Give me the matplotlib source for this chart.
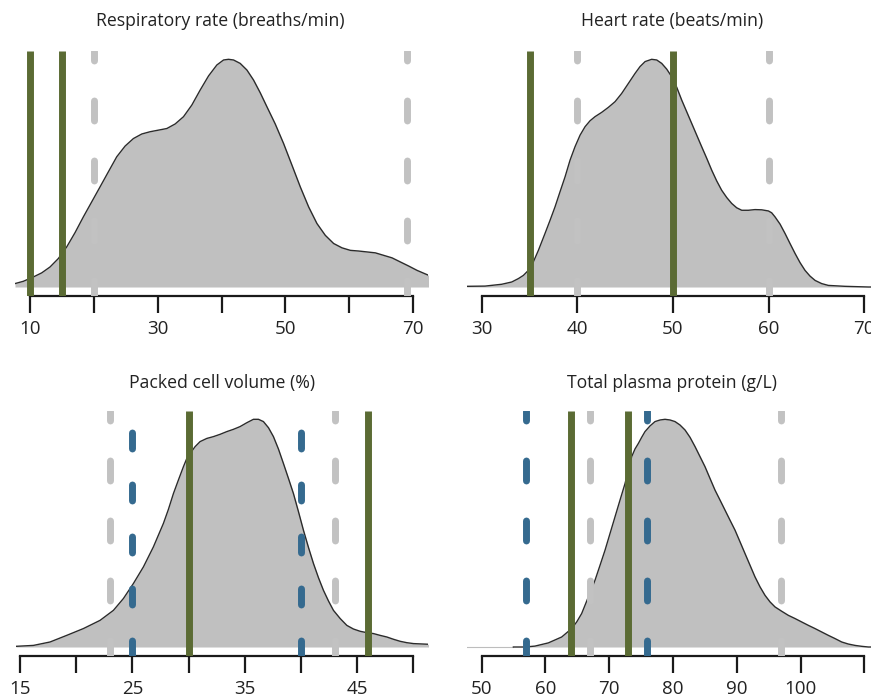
import matplotlib
matplotlib.use("Agg")
import matplotlib.pyplot as plt

plt.rcParams['font.family'] = ['Open Sans', 'DejaVu Sans']
plt.rcParams['lines.scale_dashes'] = False

# density curves (x, relative height)
rr_x = [7.65, 8.95, 10.52, 11.83, 13.14, 14.44, 15.75, 17.06, 18.36, 19.67, 20.98, 22.28, 23.59,
        24.9, 26.2, 27.51, 28.82, 30.13, 31.43, 32.74, 34.05, 35.35, 36.66, 37.97, 39.27, 40.32,
        41.1, 41.89, 42.93, 43.98, 45.02, 46.07, 47.11, 48.42, 49.73, 51.04, 52.34, 53.65, 54.95,
        56.26, 57.57, 58.88, 60.18, 61.49, 62.8, 64.1, 65.41, 66.72, 68.02, 69.33, 70.64, 72.47]
rr_d = [0.015, 0.025, 0.044, 0.062, 0.088, 0.125, 0.176, 0.239, 0.308, 0.374, 0.44, 0.506, 0.572,
        0.619, 0.652, 0.672, 0.682, 0.689, 0.696, 0.716, 0.748, 0.799, 0.865, 0.927, 0.975, 0.997,
        1.0, 0.997, 0.982, 0.953, 0.909, 0.853, 0.792, 0.716, 0.63, 0.535, 0.44, 0.352, 0.279,
        0.227, 0.191, 0.172, 0.161, 0.158, 0.154, 0.15, 0.139, 0.128, 0.11, 0.092, 0.073, 0.051]

hr_x = [28.43, 30.35, 32.09, 33.14, 33.84, 34.36, 34.88, 35.4, 35.93, 36.62, 37.15, 37.67, 38.19,
        38.72, 39.24, 39.76, 40.29, 40.81, 41.33, 41.85, 42.55, 43.25, 43.95, 44.64, 45.34, 46.04,
        46.56, 47.09, 47.78, 48.31, 48.83, 49.35, 49.87, 50.4, 50.92, 51.44, 51.97, 52.49, 53.01,
        53.54, 54.06, 54.58, 55.1, 55.63, 56.15, 56.67, 57.2, 57.89, 58.59, 59.29, 59.99, 60.33,
        60.68, 61.21, 61.73, 62.25, 62.78, 63.3, 63.82, 64.34, 64.87, 65.56, 66.26, 68.0, 70.45, 71.0]
hr_d = [0.003, 0.004, 0.012, 0.022, 0.037, 0.051, 0.073, 0.11, 0.161, 0.235, 0.293, 0.352, 0.418,
        0.484, 0.557, 0.616, 0.667, 0.704, 0.73, 0.748, 0.767, 0.789, 0.814, 0.85, 0.894, 0.938,
        0.968, 0.99, 1.0, 0.997, 0.982, 0.957, 0.924, 0.877, 0.821, 0.77, 0.718, 0.667, 0.616,
        0.565, 0.513, 0.466, 0.425, 0.393, 0.367, 0.348, 0.337, 0.337, 0.34, 0.339, 0.334, 0.326,
        0.308, 0.276, 0.235, 0.191, 0.147, 0.107, 0.073, 0.048, 0.029, 0.015, 0.007, 0.003, 0.0, 0.0]

pcv_x = [14.64, 16.19, 17.67, 19.15, 20.64, 22.12, 23.31, 24.2, 25.09, 25.98, 26.87, 27.76, 28.2,
         28.65, 29.09, 29.54, 29.84, 30.13, 30.58, 31.02, 31.62, 32.21, 32.8, 33.4, 33.99, 34.58,
         35.18, 35.77, 36.22, 36.66, 37.11, 37.55, 38.0, 38.44, 38.89, 39.33, 39.78, 40.22, 40.67,
         41.11, 41.56, 42.0, 42.45, 42.89, 43.49, 44.08, 44.67, 45.27, 45.86, 46.45, 47.05, 47.64,
         48.23, 48.83, 49.42, 50.01, 51.35]
pcv_d = [0.003, 0.007, 0.022, 0.051, 0.081, 0.117, 0.161, 0.213, 0.279, 0.352, 0.44, 0.543, 0.604,
         0.674, 0.733, 0.792, 0.828, 0.85, 0.88, 0.902, 0.916, 0.924, 0.934, 0.946, 0.956, 0.968,
         0.985, 1.0, 1.0, 0.99, 0.963, 0.924, 0.869, 0.806, 0.74, 0.674, 0.594, 0.513, 0.437,
         0.367, 0.304, 0.249, 0.202, 0.161, 0.125, 0.095, 0.079, 0.069, 0.063, 0.059, 0.051, 0.044,
         0.034, 0.025, 0.019, 0.015, 0.012]

tpp_x = [54.97, 56.8, 58.36, 60.45, 62.55, 64.11, 64.9, 65.68, 66.73, 67.77, 68.56, 69.34, 70.13,
         70.91, 71.69, 72.48, 73.0, 73.52, 74.05, 74.57, 75.09, 75.61, 76.4, 77.18, 77.97, 78.75,
         79.54, 80.32, 81.1, 81.89, 82.67, 83.46, 84.24, 85.02, 85.81, 86.59, 87.38, 88.16, 88.94,
         89.73, 90.51, 91.3, 92.08, 92.86, 93.65, 94.43, 95.22, 96.0, 97.05, 98.09, 99.14, 100.18,
         101.23, 102.27, 103.32, 104.37, 105.41, 106.46, 107.5, 108.55, 109.59, 110.64, 111.1]
tpp_d = [0.0, 0.0, 0.004, 0.018, 0.044, 0.081, 0.11, 0.147, 0.22, 0.293, 0.359, 0.425, 0.499,
         0.572, 0.645, 0.718, 0.777, 0.836, 0.87, 0.894, 0.921, 0.946, 0.971, 0.99, 0.997, 1.0,
         0.997, 0.99, 0.975, 0.953, 0.921, 0.88, 0.836, 0.792, 0.74, 0.689, 0.645, 0.601, 0.557,
         0.513, 0.462, 0.41, 0.359, 0.308, 0.264, 0.227, 0.198, 0.176, 0.157, 0.139, 0.125, 0.11,
         0.095, 0.081, 0.066, 0.051, 0.037, 0.022, 0.013, 0.007, 0.003, 0.0, 0.0]

# reference lines
rr_green, rr_gray, rr_blue = [10, 15], [20, 69], []
hr_green, hr_gray, hr_blue = [35, 50], [40, 60], []
pcv_green, pcv_gray, pcv_blue = [30, 46], [23, 43], [25, 40]
tpp_green, tpp_gray, tpp_blue = [64, 73], [67, 97], [57, 76]

titles = ["Respiratory rate (breaths/min)", "Heart rate (beats/min)",
          "Packed cell volume (%)", "Total plasma protein (g/L)"]
ticks = [[10, 20, 30, 40, 50, 60, 70], [30, 40, 50, 60, 70],
         [15, 20, 25, 30, 35, 40, 45, 50], [50, 60, 70, 80, 90, 100, 110]]
labels = [["10", "", "30", "", "50", "", "70"], ["30", "40", "50", "60", "70"],
          ["15", "", "25", "", "35", "", "45", ""], ["50", "60", "70", "80", "90", "100", ""]]

W, H = 871, 699
GREEN = '#5b6b34'
GRAY = '#c2c2c2'
BLUE = '#356a8f'
FILL = '#c0c0c0'
px = 0.72  # points per pixel at dpi 100

fig = plt.figure(figsize=(W / 100, H / 100), dpi=100)


def axes_px(left, right, top, bottom):
    return fig.add_axes([left / W, 1 - bottom / H, (right - left) / W, (bottom - top) / H])


panels = [
    (axes_px(15, 428, 51, 296), rr_x, rr_d, rr_green, rr_gray, rr_blue, (7.65, 72.35), 220.7, 20.7),
    (axes_px(466.7, 871, 51, 296), hr_x, hr_d, hr_green, hr_gray, hr_blue, (28.43, 70.72), 671.7, 20.7),
    (axes_px(16, 428.4, 411, 656), pcv_x, pcv_d, pcv_green, pcv_gray, pcv_blue, (14.64, 51.34), 221.7, 383.3),
    (axes_px(466.7, 871, 411, 656), tpp_x, tpp_d, tpp_green, tpp_gray, tpp_blue, (47.65, 111.05), 672.3, 383.3),
]

YLO, YHI = -0.0395, 1.0365
gray_style = (10.5 * px, (20 * px, 40 * px))
blue_short = (30.5 * px, (16 * px, 36 * px))

for i, (ax, xs, ds, greens, grays, blues, xlim, tx, ty) in enumerate(panels):
    if i == 3:
        ax.plot([xlim[0], xs[0]], [0, 0], color='#bdbdbd', lw=0.8, zorder=1)
    ax.fill_between(xs, 0, ds, color=FILL, lw=0, zorder=1)
    ax.plot(xs, ds, color='#2b2b2b', lw=1.0, zorder=2)

    for g in grays:
        l, = ax.plot([g, g], [YHI, YLO], color=GRAY, lw=5, zorder=3)
        l.set_linestyle(gray_style)
        l.set_dash_capstyle('round')
    for b in blues:
        l, = ax.plot([b, b], [YHI, YLO], color=BLUE, lw=5, zorder=3)
        l.set_linestyle(blue_short if i == 2 else gray_style)
        l.set_dash_capstyle('round')
    for g in greens:
        ax.plot([g, g], [YHI, YLO], color=GREEN, lw=5, solid_capstyle='butt', zorder=4)

    ax.set_xlim(*xlim)
    ax.set_ylim(YLO, YHI)
    for s in ['top', 'left', 'right']:
        ax.spines[s].set_visible(False)
    ax.spines['bottom'].set_bounds(ticks[i][0], ticks[i][-1])
    ax.spines['bottom'].set_linewidth(1.6)
    ax.spines['bottom'].set_color('#1a1a1a')
    ax.set_yticks([])
    ax.set_xticks(ticks[i], labels[i])
    ax.tick_params(axis='x', length=12, width=1.6, color='#1a1a1a', pad=5,
                   labelsize=13.5, labelcolor='#222222')
    ax.patch.set_visible(False)
    fig.text(tx / W, 1 - ty / H, titles[i], ha='center', va='center',
             fontsize=12.7, color='#222222')

fig.savefig('out.png', dpi=100)
